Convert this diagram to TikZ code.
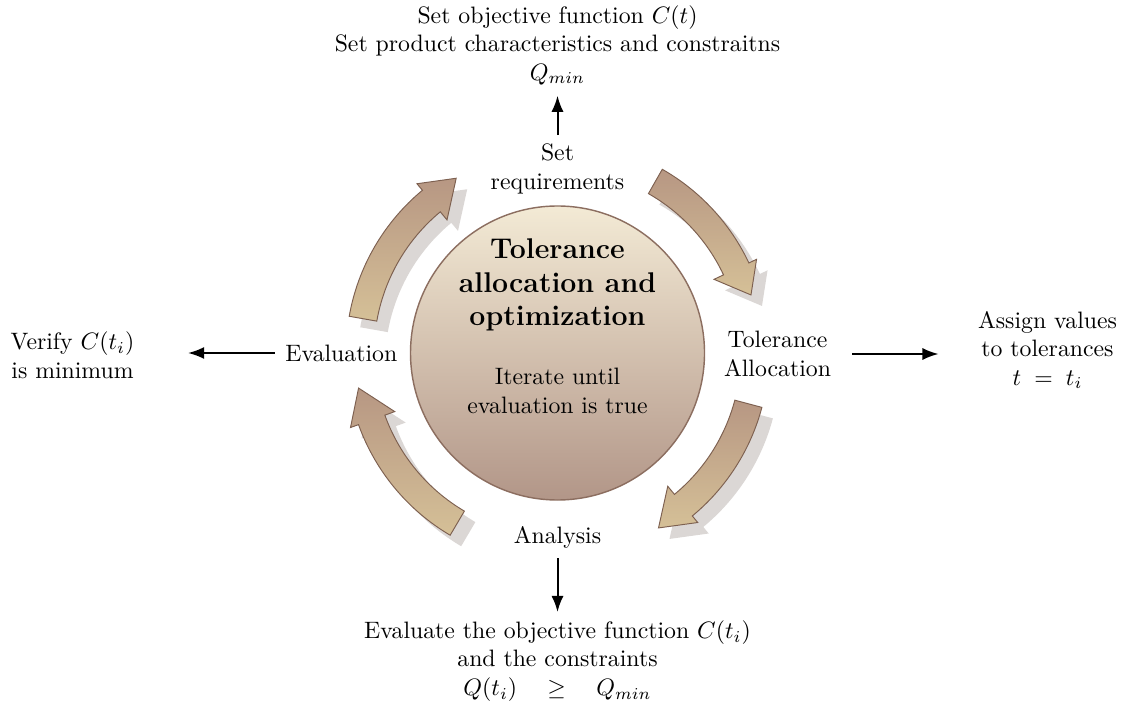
\documentclass[tikz,border=0pt]{standalone}
\usetikzlibrary{arrows.meta}

% palette
\definecolor{arrowtop}{RGB}{183,151,131}
\definecolor{arrowbot}{RGB}{213,192,151}
\definecolor{arrowedge}{RGB}{125,96,80}
\definecolor{shadowgray}{RGB}{219,215,213}
\definecolor{coretop}{RGB}{243,234,213}
\definecolor{corebot}{RGB}{178,150,136}
\definecolor{coreedge}{RGB}{140,110,96}

% one drawing unit
\newcommand{\pxlen}{0.421pt}

% curved block arrow around the centre: tail angle, head base angle, tip angle
\newcommand{\ringarrow}[3]{%
  \fill[shadowgray, shift={(11,-11)}]
    (#1:183.5) -- (#1:211.5) arc[start angle=#1, end angle=#2, radius=211.5*\pxlen]
    -- (#2:220) -- (#3:202) -- (#2:173) -- (#2:183.5)
    arc[start angle=#2, end angle=#1, radius=183.5*\pxlen] -- cycle;
  \shade[ringbody]
    (#1:183.5) -- (#1:211.5) arc[start angle=#1, end angle=#2, radius=211.5*\pxlen]
    -- (#2:220) -- (#3:202) -- (#2:173) -- (#2:183.5)
    arc[start angle=#2, end angle=#1, radius=183.5*\pxlen] -- cycle;
}

\tikzset{
  ringbody/.style={top color=arrowtop, bottom color=arrowbot, draw=arrowedge, line width=0.4pt, line join=miter},
  core/.style={circle, minimum size=294*\pxlen, inner sep=0pt, top color=coretop, bottom color=corebot, draw=coreedge, line width=0.6pt},
  lbl/.style={inner sep=0pt, align=center},
  conn/.style={-{Latex}, line width=0.85pt},
}

\begin{document}
\begin{tikzpicture}[x=\pxlen, y=\pxlen]
  \useasboundingbox (0,0) rectangle (1124,706);

  % the four cycle arrows
  \begin{scope}[shift={(557.5,353)}]
    \ringarrow{60.3}{25.2}{16.7}
    \ringarrow{-14.9}{-50.4}{-60}
    \ringarrow{239.5}{199.8}{190}
    \ringarrow{170}{129.7}{120.1}
  \end{scope}

  % central disc
  \node[core] (core) at (557.5,353) {};
  \node[lbl, font=\large\bfseries] (title) at (557.5,421) {Tolerance\\allocation and\\optimization};
  \node[lbl] (iterate) at (557.5,315) {Iterate until\\evaluation is true};

  % stage labels
  \node[lbl] (setreq) at (557.5,537) {Set\\requirements};
  \node[lbl] (alloc) at (777.5,352) {Tolerance\\Allocation};
  \node[lbl] (analysis) at (557.5,169) {Analysis};
  \node[lbl] (evalnode) at (341.3,353) {Evaluation};

  % outcomes
  \node[lbl] (objective) at (557.5,661) {Set objective function $C(t)$\\Set product characteristics and constraitns\\$Q_{min}$};
  \node[lbl] (assign) at (1047.5,356) {Assign values\\to tolerances\\$t \;=\; t_i$};
  \node[lbl] (evaluate) at (557.5,45) {Evaluate the objective function $C(t_i)$\\and the constraints\\$Q(t_i) \quad\geq\quad Q_{min}$};
  \node[lbl] (verify) at (72.5,351) {Verify $C(t_i)$\\is minimum};

  % outward connectors
  \draw[conn, shorten <=3.6pt, shorten >=4.4pt] (setreq.north) -- (setreq.north |- objective.south);
  \draw[conn, shorten <=8.7pt, shorten >=16.4pt] (alloc.east) -- (alloc.east -| assign.west);
  \draw[conn, shorten <=4.2pt, shorten >=3.4pt] (analysis.south) -- (analysis.south |- evaluate.north);
  \draw[conn, shorten <=4.2pt, shorten >=22.4pt] (evalnode.west) -- (evalnode.west -| verify.east);
\end{tikzpicture}
\end{document}
